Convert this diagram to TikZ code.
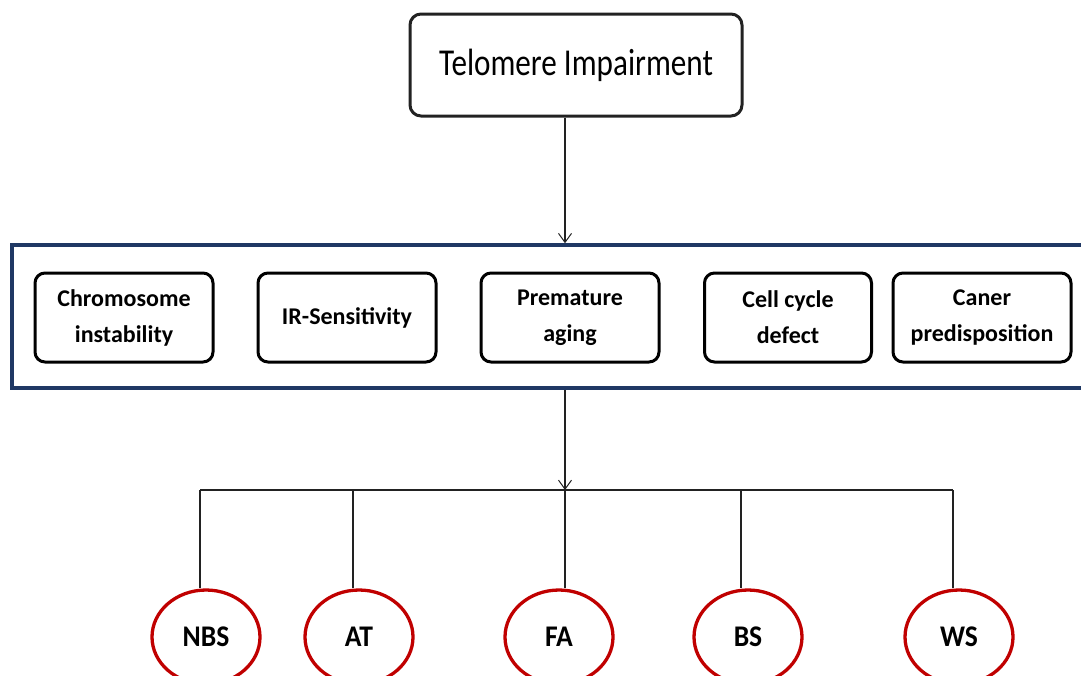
\documentclass[tikz,border=0pt]{standalone}
\usepackage{fontspec}
\setmainfont{Carlito}
\usetikzlibrary{shapes.geometric,arrows.meta}
\definecolor{navy}{RGB}{31,56,100}
\definecolor{dred}{RGB}{192,0,0}
\definecolor{ink}{RGB}{34,34,34}
\begin{document}
\begin{tikzpicture}[x=1pt,y=-1pt,
  topbox/.style={draw=ink, line width=3pt, rounded corners=11pt, minimum width=332pt, minimum height=102pt, inner sep=0pt},
  groupbox/.style={draw=navy, line width=3.5pt, minimum width=1090pt, minimum height=143pt, inner sep=0pt},
  featbox/.style={draw=black, line width=3pt, rounded corners=10pt, minimum width=178pt, minimum height=89pt, inner sep=0pt, align=center, font=\fontsize{24}{36}\selectfont\bfseries},
  disease/.style={ellipse, draw=dred, line width=3.3pt, minimum width=108pt, minimum height=94pt, inner sep=0pt},
  conn/.style={draw=ink, line width=1.1pt},
  arr/.style={conn, -{Straight Barb[length=9pt,width=13pt,line width=1pt]}}
]
\useasboundingbox (0,0) rectangle (1081,675);
\clip (0,0) rectangle (1081,675);

\node[topbox] (top) at (576,65) {\raisebox{-2pt}{\scalebox{0.82}[1]{\fontsize{38}{42}\selectfont Telomere Impairment}}};

\node[groupbox] (group) at (557,316.5) {};

\node[featbox] (f1) at (124,317.5) {Chromosome\\instability};
\node[featbox] (f2) at (347,317.5) {IR-Sensitivity};
\node[featbox] (f3) at (570,317.5) {Premature\\aging};
\node[featbox, minimum width=167pt] (f4) at (788,317.5) {Cell cycle\\defect};
\node[featbox] (f5) at (982,317.5) {Caner\\predisposition};

\begin{scope}[font=\fontsize{30}{36}\selectfont\bfseries]
\node[disease] (d1) at (206,637) {\scalebox{0.92}[1]{NBS}};
\node[disease] (d2) at (359,637) {\scalebox{0.92}[1]{AT}};
\node[disease] (d3) at (559,637) {\scalebox{0.92}[1]{FA}};
\node[disease] (d4) at (748,637) {\scalebox{0.92}[1]{BS}};
\node[disease] (d5) at (959,637) {\scalebox{0.92}[1]{WS}};
\end{scope}

\coordinate (ax) at (565,0);
\coordinate (b1) at (200,490);
\coordinate (b2) at (353,490);
\coordinate (b3) at (565,490);
\coordinate (b4) at (741,490);
\coordinate (b5) at (953,490);

\draw[arr] (top.south -| ax) -- (group.north -| ax);
\draw[arr] (group.south -| ax) -- (b3);
\draw[conn] (b1) -- (b5);
\draw[conn] (b1) -- (b1 |- d1.north);
\draw[conn] (b2) -- (b2 |- d2.north);
\draw[conn] (b3) -- (b3 |- d3.north);
\draw[conn] (b4) -- (b4 |- d4.north);
\draw[conn] (b5) -- (b5 |- d5.north);
\end{tikzpicture}
\end{document}
